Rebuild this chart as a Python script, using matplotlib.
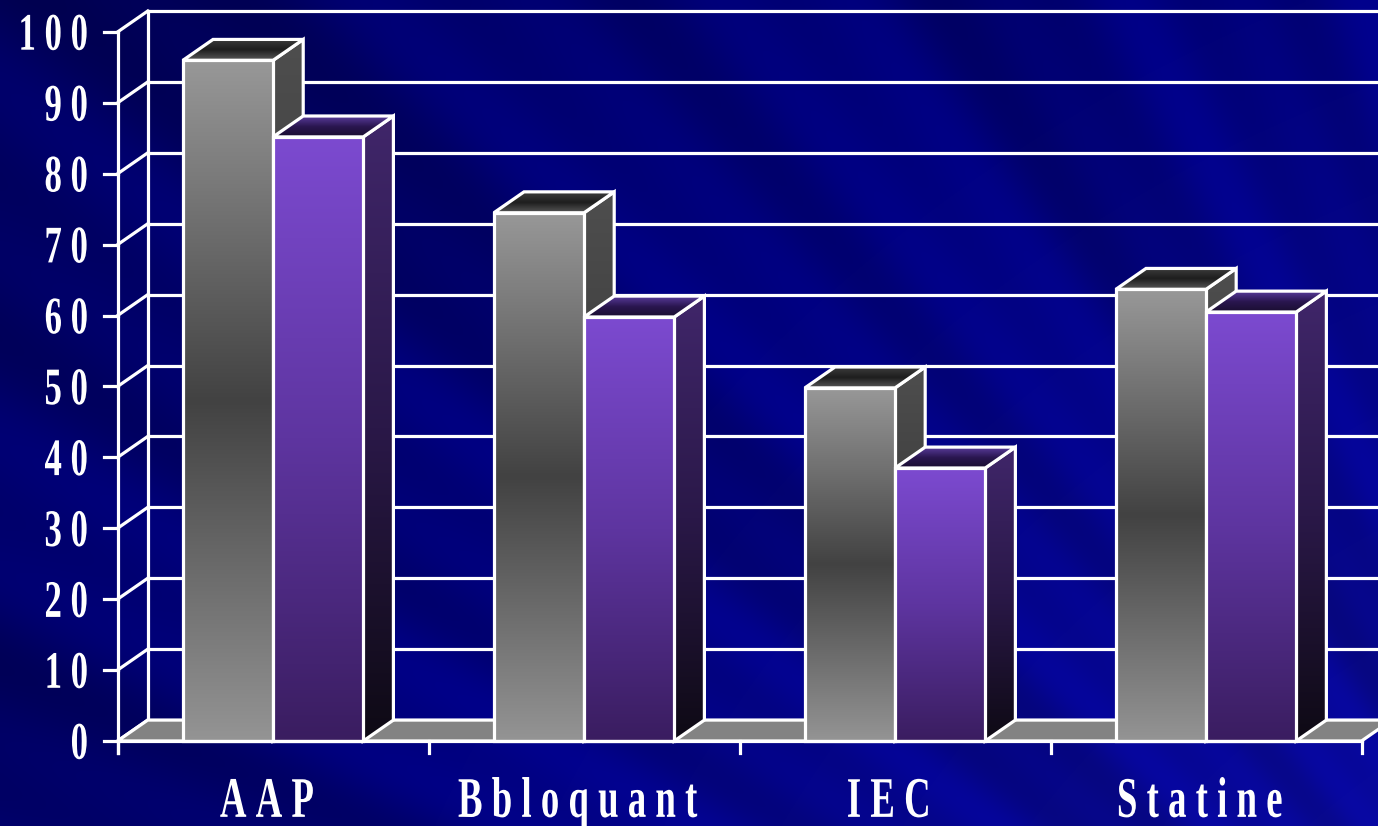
import numpy as np
import matplotlib.pyplot as plt
from matplotlib.patches import Polygon
from matplotlib.colors import LinearSegmentedColormap
from matplotlib.patheffects import AbstractPathEffect
from matplotlib.transforms import Affine2D

# Data
categories = ['AAP', 'Bbloquant', 'IEC', 'Statine']
serie_grise = [96, 74.5, 49.8, 63.7]
serie_violette = [85.2, 59.8, 38.5, 60.5]
y_ticks = [0, 10, 20, 30, 40, 50, 60, 70, 80, 90, 100]

# 3D look: bar width and depth offset (data units)
bar_w = 0.29
dx, dy = 0.097, 2.95
lw = 2.3
NBSP = '\u00a0'


class Stretch(AbstractPathEffect):
    """Stretch glyphs vertically about the baseline (tall narrow serif look)."""
    def __init__(self, sy=1.5):
        super().__init__()
        self.sy = sy

    def draw_path(self, renderer, gc, tpath, affine, rgbFace=None):
        base = affine.transform((0, 0))[1]
        aff = affine + Affine2D().translate(0, -base).scale(1, self.sy).translate(0, base)
        renderer.draw_path(gc, tpath, aff, rgbFace)


def face(ax, pts, colors, z):
    poly = Polygon(pts, closed=True, facecolor='none', edgecolor='white',
                   lw=lw, zorder=z + 0.1, joinstyle='miter')
    ax.add_patch(poly)
    xs = [p[0] for p in pts]
    ys = [p[1] for p in pts]
    cmap = LinearSegmentedColormap.from_list('f', colors)
    grad = np.linspace(0, 1, 256).reshape(-1, 1)
    im = ax.imshow(grad, cmap=cmap, extent=(min(xs), max(xs), min(ys), max(ys)),
                   origin='upper', aspect='auto', interpolation='bilinear', zorder=z)
    im.set_clip_path(poly)


def bar3d(ax, left, right, h, front_c, side_c, top_c, z):
    face(ax, [(right, 0), (right + dx, dy), (right + dx, h + dy), (right, h)], side_c, z)
    face(ax, [(left, h), (right, h), (right + dx, h + dy), (left + dx, h + dy)], top_c, z + 0.2)
    face(ax, [(left, 0), (right, 0), (right, h), (left, h)], front_c, z + 0.4)


fig = plt.figure(figsize=(13.78, 8.26), dpi=100)
ax = fig.add_axes([0, 0, 1, 1])
xlim = (-0.878, 3.553)
ylim = (-11.99, 104.51)

# background: navy, brighter towards lower right, with faint streaks fanning from there
ny, nx = 276, 460
py, px = np.mgrid[0:826:ny * 1j, 0:1378:nx * 1j]
ox, oy = 1900.0, 1500.0
r = np.hypot(px - ox, py - oy)
theta = np.arctan2(oy - py, ox - px)
rn = (r - r.min()) / (r.max() - r.min())
blue = 0.60 - 0.24 * rn \
    + 0.035 * np.sin(theta * 41 + 0.7) + 0.025 * np.sin(theta * 97 + 2.1) \
    + 0.02 * np.sin(theta * 19 + 4.0)
blue = np.clip(blue, 0, 1)
red = np.clip(0.06 * (0.55 - rn), 0, 1)
bg = np.dstack([red, red, blue])
ax.imshow(bg, extent=(xlim[0], xlim[1], ylim[0], ylim[1]), origin='upper',
          aspect='auto', interpolation='bicubic', zorder=0)

x_left = -0.5
x_right = len(categories) - 0.5

# back wall gridlines and left wall
for v in y_ticks:
    ax.plot([x_left + dx, x_right + dx], [v + dy, v + dy], color='white', lw=lw, zorder=1)
    ax.plot([x_left, x_left + dx], [v, v + dy], color='white', lw=lw, zorder=1)
    ax.plot([x_left - 0.045, x_left], [v, v], color='white', lw=lw, zorder=1)
ax.plot([x_left + dx, x_left + dx], [dy, 100 + dy], color='white', lw=lw, zorder=1)
ax.plot([x_left, x_left], [-1.7, 100], color='white', lw=lw, zorder=1)

# floor
floor = Polygon([(x_left, 0), (x_right, 0), (x_right + dx, dy), (x_left + dx, dy)],
                closed=True, facecolor='#838383', edgecolor='white', lw=lw, zorder=2)
ax.add_patch(floor)

# bars
gray_front = ['#989898', '#424242', '#949494']
gray_side = ['#4e4e4e', '#3a3a3a', '#2a2a2a']
gray_top = ['#3c3c3c', '#1e1e1e', '#585858']
purple_front = ['#7c4ad0', '#5e35a0', '#3a1d60']
purple_side = ['#40266a', '#2a1848', '#0e0a14']
purple_top = ['#5a3c9c', '#2a1650', '#1a0e30']

z = 3
for i in range(len(categories)):
    bar3d(ax, i - bar_w, i, serie_grise[i], gray_front, gray_side, gray_top, z)
    bar3d(ax, i, i + bar_w, serie_violette[i], purple_front, purple_side, purple_top, z + 1)
    z += 2

# front baseline and category ticks
ax.plot([x_left, x_right], [0, 0], color='white', lw=lw, zorder=z)
for k in range(len(categories) + 1):
    ax.plot([x_left + k, x_left + k], [0, -1.7], color='white', lw=lw, zorder=z)

# labels
for v in y_ticks:
    ax.text(-0.595, v - 2.5, NBSP.join(str(v)), ha='right', va='baseline', color='white',
            fontsize=25, fontfamily='Liberation Serif', fontweight='bold',
            path_effects=[Stretch(1.52)], zorder=z)
for i, c in enumerate(categories):
    ax.text(i - 0.02, -10.7, NBSP.join(c), ha='center', va='baseline', color='white',
            fontsize=26.5, fontfamily='Liberation Serif', fontweight='bold',
            path_effects=[Stretch(1.56)], zorder=z)

ax.set_xlim(xlim)
ax.set_ylim(ylim)
ax.axis('off')

fig.savefig('out.png', dpi=100)
